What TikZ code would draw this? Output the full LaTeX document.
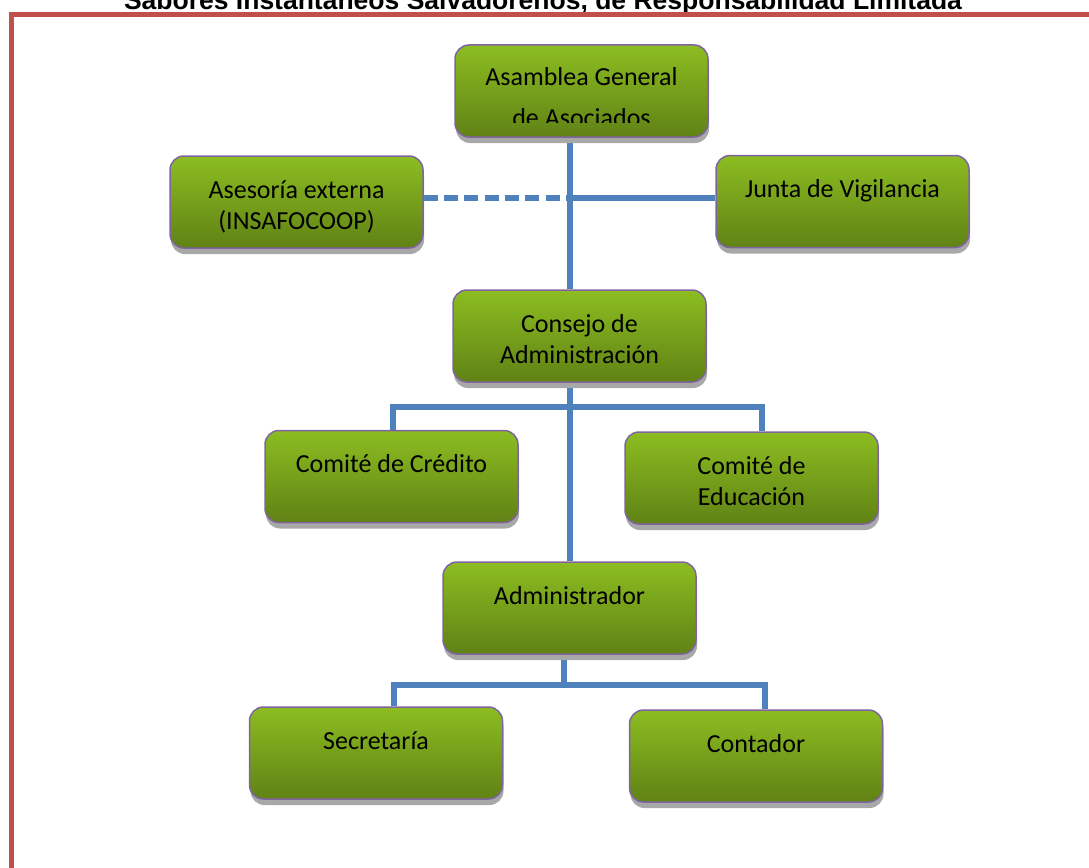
\documentclass[tikz,border=0pt]{standalone}
\usepackage{fontspec}
\setmainfont{Carlito}
\newfontfamily\titlefont{Liberation Sans}
\usetikzlibrary{shadows,backgrounds}
\definecolor{gtop}{RGB}{140,189,33}
\definecolor{gbot}{RGB}{96,130,21}
\definecolor{bord}{RGB}{128,100,162}
\definecolor{lnblue}{RGB}{79,129,189}
\definecolor{framered}{RGB}{192,80,77}
\definecolor{shgray}{RGB}{168,168,168}
\newcommand\lnk[2][]{\draw[lnkshadow,#1] #2; \draw[lnkline,#1] #2;}
\begin{document}
\begin{tikzpicture}[x=1pt,y=-1pt,
  obox/.style={rectangle, rounded corners=14pt, draw=bord, line width=1.5pt,
    top color=gtop, bottom color=gbot, minimum width=253pt, minimum height=92pt,
    inner xsep=0pt, inner ysep=0pt, text height=42pt, text depth=50pt,
    align=center, font=\fontsize{26}{31.5}\selectfont,
    drop shadow={shadow xshift=1pt, shadow yshift=-6pt, fill=shgray, opacity=1}},
  twoline/.style={text height=73.5pt, text depth=18.5pt},
  btext/.style={inner sep=0pt, align=center, text height=83.5pt, text depth=8.5pt,
    font=\fontsize{26}{31.5}\selectfont},
  lnkline/.style={draw=lnblue, line width=6pt, line join=miter},
  lnkshadow/.style={draw=shgray, line width=6pt, line join=miter, xshift=1pt, yshift=-4pt},
  dashlink/.style={dash pattern=on 14pt off 6.3pt},
  titletext/.style={font=\titlefont\bfseries\fontsize{26.5}{30}\selectfont, anchor=base, inner sep=0pt}
]
\useasboundingbox (0,0) rectangle (1089,867);
\clip (0,0) rectangle (1089,867);

% title and frame
\node[titletext] (title) at (543,9.5) {Sabores Instantáneos Salvadoreños, de Responsabilidad Limitada};
\draw[framered, line width=5pt, line join=miter] (1100,14.5) -- (11,14.5) -- (11,880);

% boxes
\node[obox] (A)  at (581.5,91) {};
\begin{scope}
  \clip (A.north west) rectangle ([yshift=15pt]A.south east);
  \node[btext, anchor=north] (At) at ([yshift=1pt]A.north) {Asamblea General\\[10pt]de Asociados};
\end{scope}
\node[obox, twoline] (E)  at (296.5,202) {Asesoría externa\\(INSAFOCOOP)};
\node[obox] (J)  at (842.5,201.5) {Junta de Vigilancia};
\node[obox, twoline] (C)  at (579.5,336) {Consejo de\\Administración};
\node[obox] (CC) at (391.5,476.5) {Comité de Crédito};
\node[obox, twoline] (CE) at (751.5,478) {Comité de\\Educación};
\node[obox] (AD) at (569.5,608) {Administrador};
\node[obox] (S)  at (376,753) {Secretaría};
\node[obox] (CT) at (756,756) {Contador};

% helper coordinates
\coordinate (tr) at (570,0);
\coordinate (hy) at (0,198);
\coordinate (by) at (0,407);
\coordinate (cl) at (393,0);
\coordinate (cr) at (762,0);
\coordinate (t2) at (564,0);
\coordinate (ay) at (0,685);
\coordinate (sl) at (394,0);
\coordinate (sr) at (765,0);

\begin{pgfonlayer}{background}
  \lnk[dashlink]{(E.east |- hy) -- (hy -| tr)}
  \lnk{(hy -| tr) -- (J.west |- hy)}
  \lnk{(A.south -| tr) -- (C.north -| tr)}
  \lnk{(C.south -| tr) -- (AD.north -| tr)}
  \lnk{(CC.north -| cl) -- (by -| cl) -- (by -| cr) -- (CE.north -| cr)}
  \lnk{(AD.south -| t2) -- (ay -| t2)}
  \lnk{(S.north -| sl) -- (ay -| sl) -- (ay -| sr) -- (CT.north -| sr)}
\end{pgfonlayer}
\end{tikzpicture}
\end{document}
